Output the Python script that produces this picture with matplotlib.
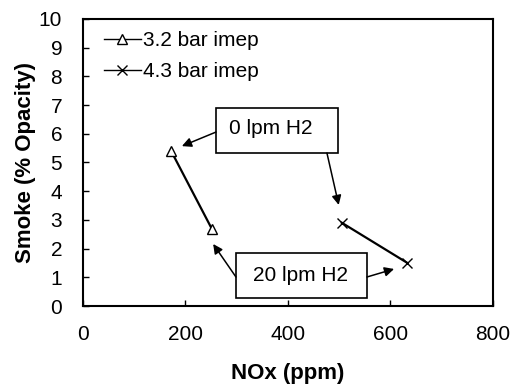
import matplotlib
matplotlib.use("Agg")
import matplotlib.pyplot as plt
from matplotlib.patches import Rectangle

plt.rcParams['font.family'] = ['Liberation Sans', 'DejaVu Sans']

# data
nox_32 = [172, 251]
smoke_32 = [5.4, 2.7]
nox_43 = [505, 633]
smoke_43 = [2.9, 1.5]
series_labels = ['3.2 bar imep', '4.3 bar imep']
x_ticks = [0, 200, 400, 600, 800]
y_ticks = list(range(0, 11))

fig = plt.figure(figsize=(5.24, 3.87), dpi=100)
ax = fig.add_axes([0.1584, 0.2093, 0.7824, 0.7417])

ax.plot(nox_32, smoke_32, color='black', lw=1.6, marker='^', markersize=7,
        markerfacecolor='white', markeredgecolor='black', markeredgewidth=1,
        label=series_labels[0])
ax.plot(nox_43, smoke_43, color='black', lw=1.6, marker='x', markersize=7,
        markeredgewidth=1, label=series_labels[1])

ax.set_xlim(0, 800)
ax.set_ylim(0, 10)
ax.set_xticks(x_ticks)
ax.set_yticks(y_ticks)
ax.tick_params(direction='in', length=4.5, width=1, labelsize=15)
ax.tick_params(axis='x', pad=14)
ax.tick_params(axis='y', pad=15)
for s in ax.spines.values():
    s.set_linewidth(1.5)

ax.set_xlabel('NOx (ppm)', fontsize=16, fontweight='bold', labelpad=13)
ax.set_ylabel('Smoke (% Opacity)', fontsize=16, fontweight='bold')
ax.yaxis.set_label_coords(-0.115, 0.5)

leg = ax.legend(loc='upper left', frameon=False, fontsize=15, handlelength=1.8,
                handletextpad=0.1, labelspacing=0.55, borderaxespad=0.2,
                bbox_to_anchor=(0.02, 1.0))
for h in leg.legend_handles:
    h.set_linewidth(1)

# annotation boxes
ax.add_patch(Rectangle((259.5, 5.33), 238, 1.57, fill=False, edgecolor='black', lw=1.2, zorder=3))
ax.text(285, 6.17, '0 lpm H2', fontsize=15, va='center', ha='left')
ax.add_patch(Rectangle((298.5, 0.28), 255.5, 1.57, fill=False, edgecolor='black', lw=1.2, zorder=3))
ax.text(332, 1.08, '20 lpm H2', fontsize=15, va='center', ha='left')

arrow = dict(arrowstyle='-|>', color='black', lw=1.1, mutation_scale=14, shrinkA=0, shrinkB=0)
ax.annotate('', xy=(193, 5.57), xytext=(259.5, 6.06), arrowprops=arrow)
ax.annotate('', xy=(499, 3.52), xytext=(476, 5.33), arrowprops=arrow)
ax.annotate('', xy=(254, 2.16), xytext=(298.5, 1.01), arrowprops=arrow)
ax.annotate('', xy=(607, 1.29), xytext=(554, 1.01), arrowprops=arrow)

fig.savefig('out.png', dpi=100)
